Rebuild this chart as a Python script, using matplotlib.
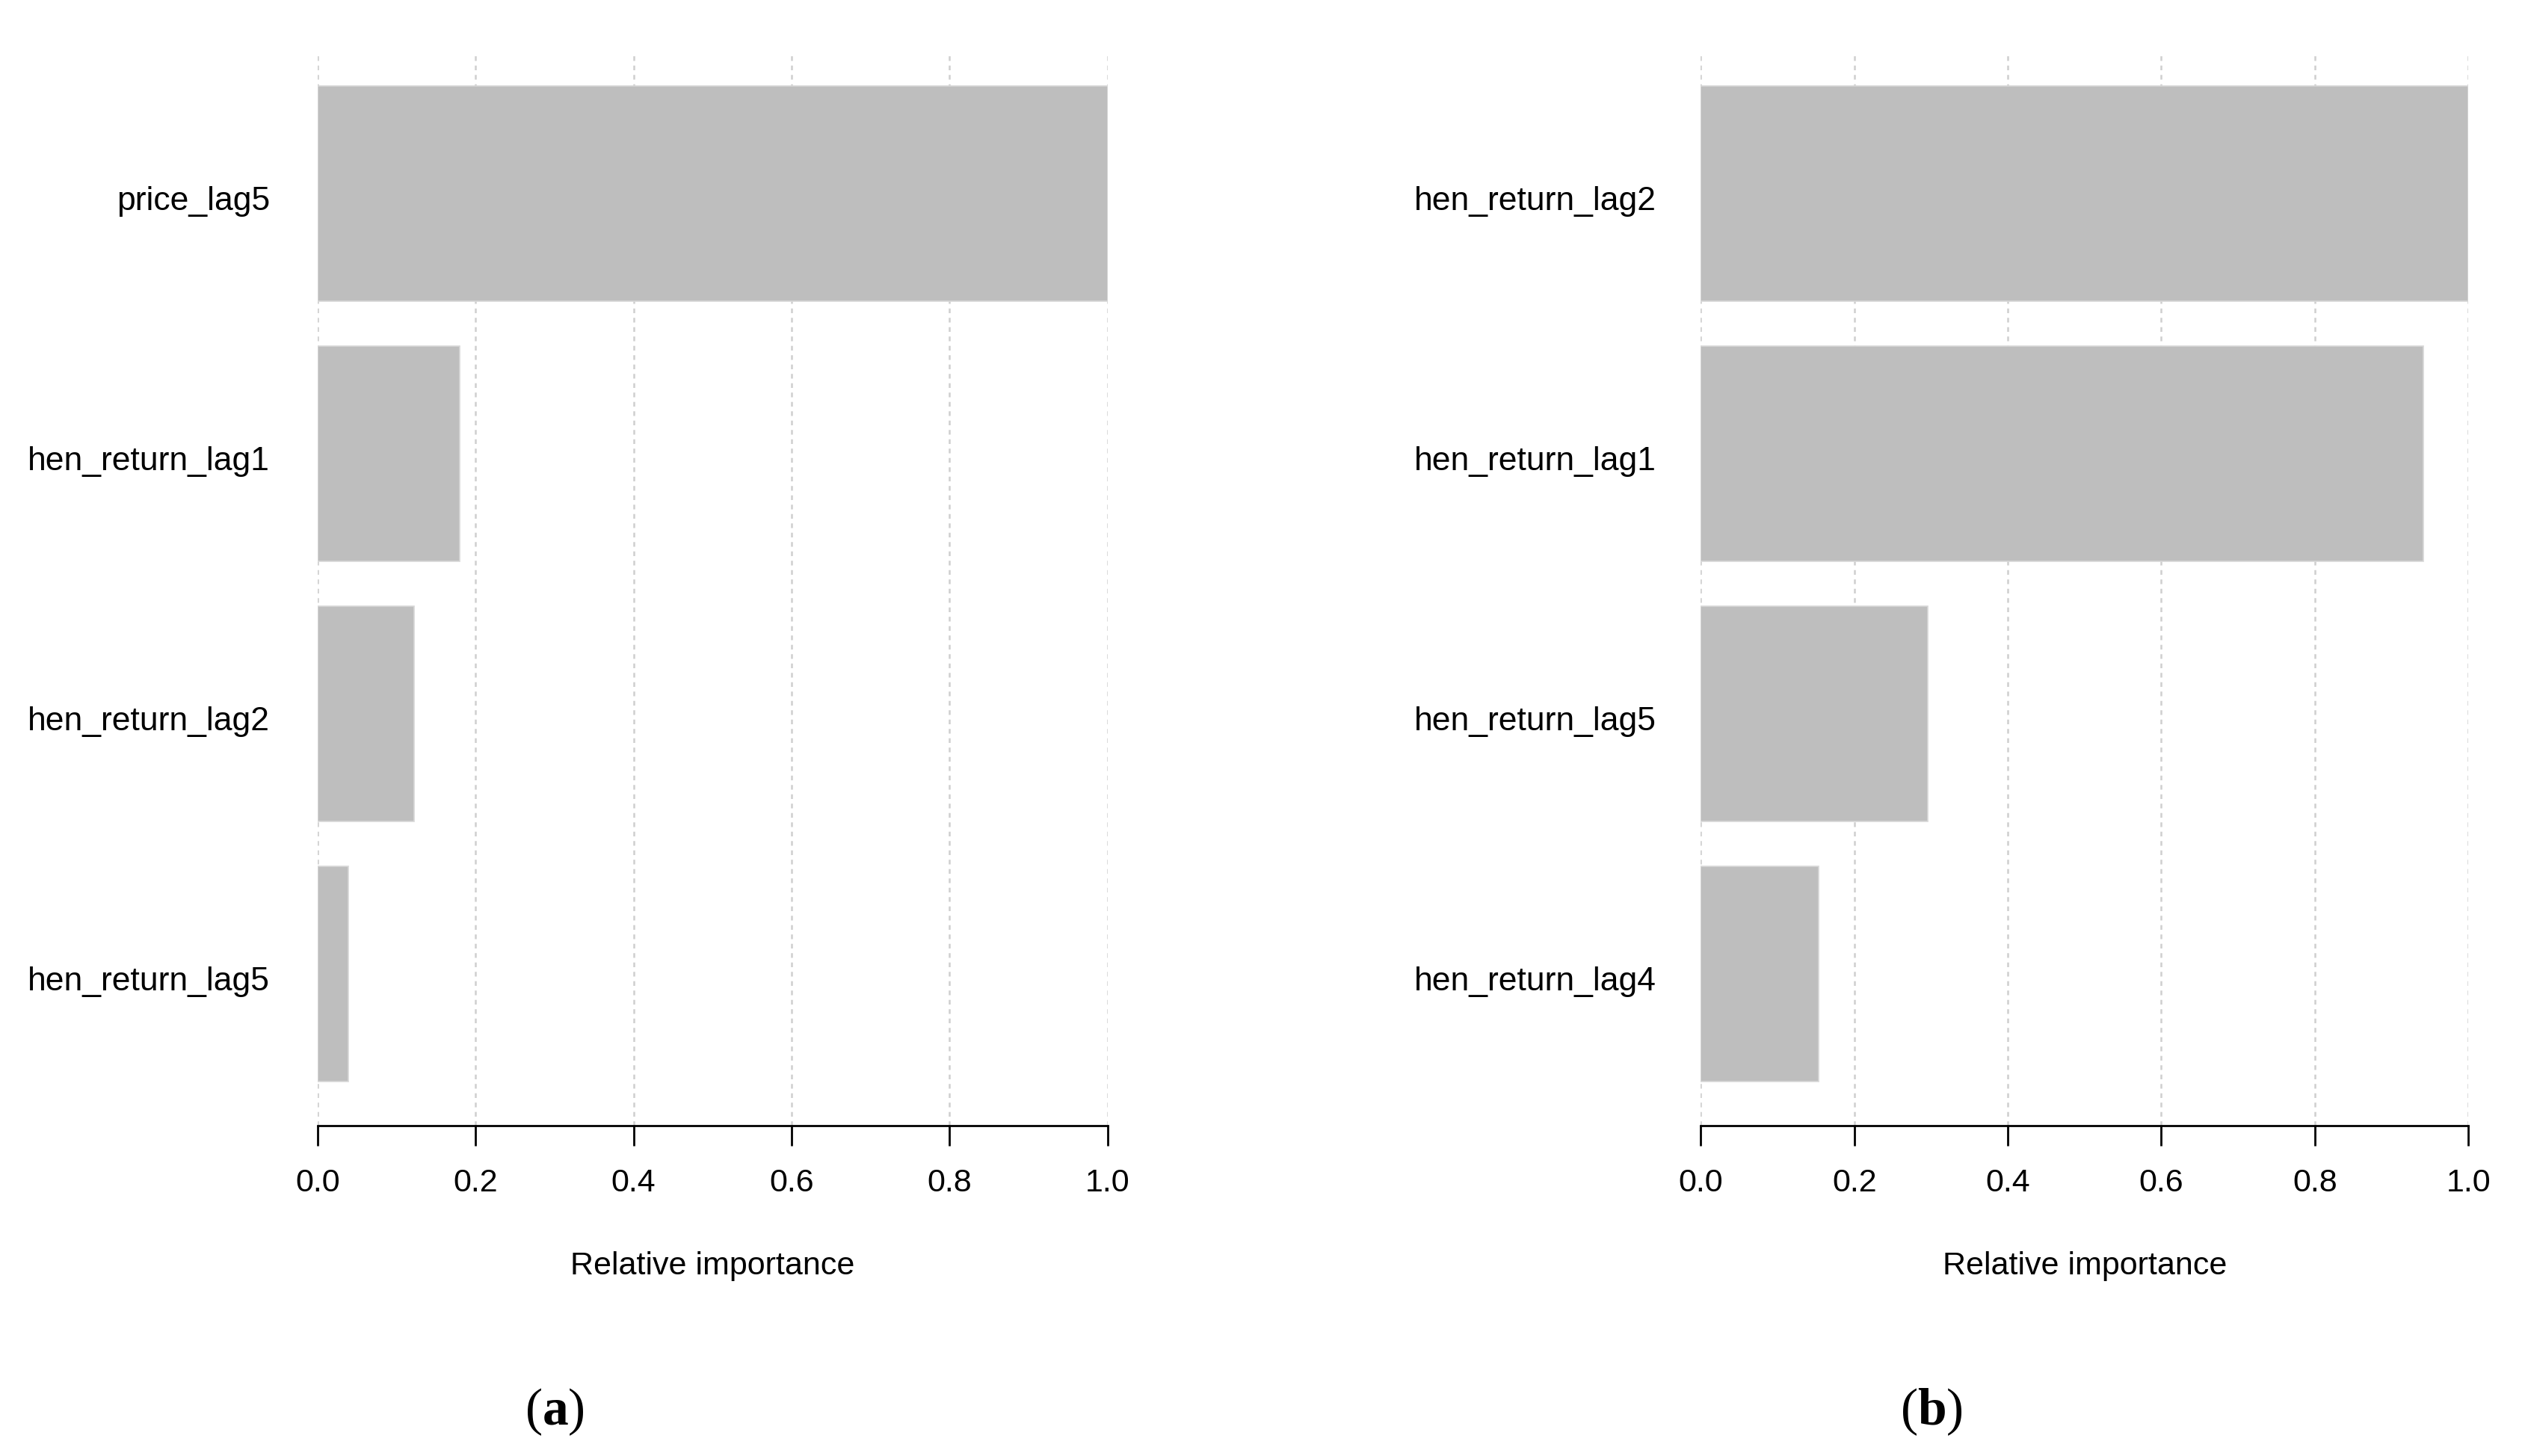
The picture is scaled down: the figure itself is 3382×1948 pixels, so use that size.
import matplotlib
matplotlib.use("Agg")
import matplotlib.pyplot as plt
import matplotlib.transforms as mtransforms

plt.rcParams['font.family'] = ['Liberation Sans', 'DejaVu Sans']
plt.rcParams['mathtext.fontset'] = 'custom'
plt.rcParams['mathtext.rm'] = 'Liberation Serif'
plt.rcParams['mathtext.bf'] = 'Liberation Serif:bold'

# panel (a)
labels_a = ["price_lag5", "hen_return_lag1", "hen_return_lag2", "hen_return_lag5"]
values_a = [1.0, 0.18, 0.122, 0.039]

# panel (b)
labels_b = ["hen_return_lag2", "hen_return_lag1", "hen_return_lag5", "hen_return_lag4"]
values_b = [1.0, 0.941, 0.296, 0.153]

xticks = [0.0, 0.2, 0.4, 0.6, 0.8, 1.0]
BAR_COLOR = "#bebebe"


def importance_panel(fig, ax, labels, values, ypad=23):
    """horizontal bars, top item first, R-style axis"""
    n = len(values)
    pos = list(range(n, 0, -1))
    ax.barh(pos, values, height=0.83, color=BAR_COLOR, edgecolor="#d8d8d8",
            linewidth=0.6, zorder=2)
    ax.set_xlim(0, 1.0)
    ax.set_ylim(0.417, n + 0.54)
    ax.set_yticks(pos)
    ax.set_yticklabels(labels, fontsize=16)
    ax.tick_params(axis="y", length=0, pad=ypad)
    # R puts the names a touch lower than the bar centre
    shift = mtransforms.ScaledTranslation(0, -2.3 / 72, fig.dpi_scale_trans)
    for lab in ax.get_yticklabels():
        lab.set_transform(lab.get_transform() + shift)
    ax.set_xticks(xticks)
    ax.set_xticklabels(["%.1f" % t for t in xticks], fontsize=15.5)
    ax.tick_params(axis="x", length=9.7, width=1.0, pad=11)
    for t in xticks:
        ax.axvline(t, color="#cfcfcf", linestyle=(0, (2.5, 2.5)), linewidth=0.9, zorder=1)
    for s in ["top", "right", "left"]:
        ax.spines[s].set_visible(False)
    ax.spines["bottom"].set_linewidth(1.0)
    ax.spines["bottom"].set_bounds(0, 1.0)
    ax.set_xlabel("Relative importance", fontsize=15.5, labelpad=25.5)


fig = plt.figure(figsize=(16.91, 9.74), dpi=200)
ax1 = fig.add_axes([0.1256, 0.2270, 0.3125, 0.7365])
ax2 = fig.add_axes([0.6728, 0.2270, 0.3036, 0.7365])

importance_panel(fig, ax1, labels_a, values_a)
importance_panel(fig, ax2, labels_b, values_b, ypad=21.5)

fig.text(0.2194, 0.030, r"($\mathbf{a}$)", fontsize=25, ha="center", va="center",
         family="Liberation Serif")
fig.text(0.764, 0.030, r"($\mathbf{b}$)", fontsize=25, ha="center", va="center",
         family="Liberation Serif")

fig.savefig("out.png", dpi=200, facecolor="white")
